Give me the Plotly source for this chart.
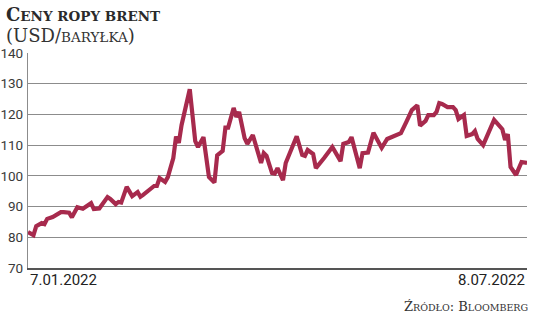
import plotly.graph_objects as go

dates = [
    "2022-01-07", "2022-01-09", "2022-01-10", "2022-01-12", "2022-01-13", "2022-01-14",
    "2022-01-16", "2022-01-19", "2022-01-20", "2022-01-22", "2022-01-23", "2022-01-25",
    "2022-01-27", "2022-01-28", "2022-01-30", "2022-01-31", "2022-02-02", "2022-02-05",
    "2022-02-06", "2022-02-08", "2022-02-09", "2022-02-10", "2022-02-12", "2022-02-14",
    "2022-02-16", "2022-02-17", "2022-02-18", "2022-02-22", "2022-02-23", "2022-02-24",
    "2022-02-26", "2022-02-27", "2022-02-28", "2022-03-01", "2022-03-02", "2022-03-03",
    "2022-03-04", "2022-03-05", "2022-03-07", "2022-03-09", "2022-03-10", "2022-03-12",
    "2022-03-14", "2022-03-16", "2022-03-17", "2022-03-19", "2022-03-20", "2022-03-21",
    "2022-03-23", "2022-03-24", "2022-03-25", "2022-03-27", "2022-03-28", "2022-03-30",
    "2022-04-02", "2022-04-03", "2022-04-04", "2022-04-06", "2022-04-07", "2022-04-08",
    "2022-04-10", "2022-04-11", "2022-04-14", "2022-04-15", "2022-04-17", "2022-04-18",
    "2022-04-19", "2022-04-21", "2022-04-22", "2022-04-24", "2022-04-25", "2022-04-28",
    "2022-05-01", "2022-05-02", "2022-05-04", "2022-05-05", "2022-05-07", "2022-05-08",
    "2022-05-09", "2022-05-11", "2022-05-13", "2022-05-16", "2022-05-18", "2022-05-20",
    "2022-05-22", "2022-05-23", "2022-05-25", "2022-05-27", "2022-05-29", "2022-05-30",
    "2022-06-01", "2022-06-02", "2022-06-04", "2022-06-05", "2022-06-06", "2022-06-07",
    "2022-06-09", "2022-06-11", "2022-06-12", "2022-06-13", "2022-06-15", "2022-06-16",
    "2022-06-18", "2022-06-19", "2022-06-20", "2022-06-22", "2022-06-26", "2022-06-29",
    "2022-06-30", "2022-07-01", "2022-07-02", "2022-07-04", "2022-07-06", "2022-07-08",
]

prices = [
    81.7, 80.7, 83.6, 84.6, 84.3, 86.0,
    86.6, 88.2, 88.2, 88.0, 86.5, 89.8,
    89.3, 90.0, 91.1, 89.2, 89.4, 93.1,
    92.5, 90.8, 91.5, 91.3, 96.4, 93.4,
    94.7, 93.2, 93.8, 96.7, 96.7, 99.3,
    98.0, 99.6, 102.5, 105.8, 112.8, 110.7,
    116.5, 120.8, 128.2, 111.3, 109.4, 112.6,
    99.6, 97.8, 106.7, 108.1, 115.7, 115.7,
    122.1, 119.2, 120.8, 112.3, 110.4, 113.3,
    104.2, 107.4, 106.5, 100.9, 100.7, 102.5,
    98.6, 104.2, 111.0, 112.9, 106.8, 106.5,
    108.4, 107.1, 102.5, 105.1, 105.8, 109.4,
    104.8, 110.4, 111.0, 112.6, 106.2, 102.5,
    107.4, 107.6, 114.0, 109.1, 112.0, 112.9,
    113.6, 113.9, 117.6, 121.4, 123.0, 116.3,
    117.9, 119.8, 119.8, 120.8, 123.7, 123.4,
    122.4, 122.4, 121.4, 118.5, 119.8, 113.0,
    113.6, 114.6, 112.0, 110.0, 118.2, 115.2,
    111.7, 113.6, 102.9, 100.3, 104.5, 104.2,
]

y_ticks = [70, 80, 90, 100, 110, 120, 130, 140]
start_label = "7.01.2022"
end_label = "8.07.2022"

title_html = "<b>C<span style='font-size:13.5px'>ENY ROPY BRENT</span></b>"
subtitle_html = "(USD/<span style='font-size:13.5px'>BARYŁKA</span>)"
source_html = ("Ź<span style='font-size:9.5px'>RÓDŁO</span>: "
               "B<span style='font-size:9.5px'>LOOMBERG</span>")

line_color = "#a72a4d"
grid_color = "#8c8c8c"

ML, MR, MT, MB = 28, 9, 53, 50
W, H = 536, 318
W_plot = W - ML - MR
H_plot = H - MT - MB


def px_x(px):
    return (px - ML) / W_plot


def px_y(py):
    return 1 - (py - MT) / H_plot


fig = go.Figure()
fig.add_trace(go.Scatter(
    x=dates, y=prices, mode="lines",
    line=dict(color=line_color, width=4.2, shape="linear"),
    hoverinfo="skip", showlegend=False,
))

fig.update_layout(
    width=W, height=H,
    margin=dict(l=ML, r=MR, t=MT, b=MB, autoexpand=False),
    paper_bgcolor="white", plot_bgcolor="white",
    showlegend=False,
    xaxis=dict(
        range=[dates[0], dates[-1]], showticklabels=False, showgrid=False,
        zeroline=False, showline=True, linecolor="#555555", linewidth=1.5,
        ticks="", automargin=False,
    ),
    yaxis=dict(
        range=[70, 140], tickvals=y_ticks, ticktext=[str(v) for v in y_ticks],
        showgrid=True, gridcolor=grid_color, gridwidth=1.3,
        zeroline=False, showline=True, linecolor=grid_color, linewidth=1.3,
        ticks="", ticklen=0, ticklabelstandoff=1, automargin=False,
        tickfont=dict(family="Roboto", size=13.5, color="#3a3a3a"),
    ),
    annotations=[
        dict(text=title_html, x=px_x(4), y=px_y(2), xref="paper", yref="paper",
             showarrow=False, xanchor="left", yanchor="top", align="left",
             font=dict(family="DejaVu Serif", size=18, color="#2a2a2a")),
        dict(text=subtitle_html, x=px_x(4), y=px_y(23), xref="paper", yref="paper",
             showarrow=False, xanchor="left", yanchor="top", align="left",
             font=dict(family="DejaVu Serif", size=18, color="#333333")),
        dict(text=start_label, x=dates[0], xref="x", y=px_y(269), yref="paper",
             showarrow=False, xanchor="left", yanchor="top", align="left",
             font=dict(family="Roboto", size=15, color="#222222")),
        dict(text=end_label, x=dates[-1], xref="x", y=px_y(269), yref="paper",
             showarrow=False, xanchor="right", yanchor="top", align="right",
             font=dict(family="Roboto", size=15, color="#222222")),
        dict(text=source_html, x=px_x(530), y=px_y(297), xref="paper", yref="paper",
             showarrow=False, xanchor="right", yanchor="top", align="right",
             font=dict(family="DejaVu Serif", size=13, color="#333333")),
    ],
)

fig.write_html("out.html")
